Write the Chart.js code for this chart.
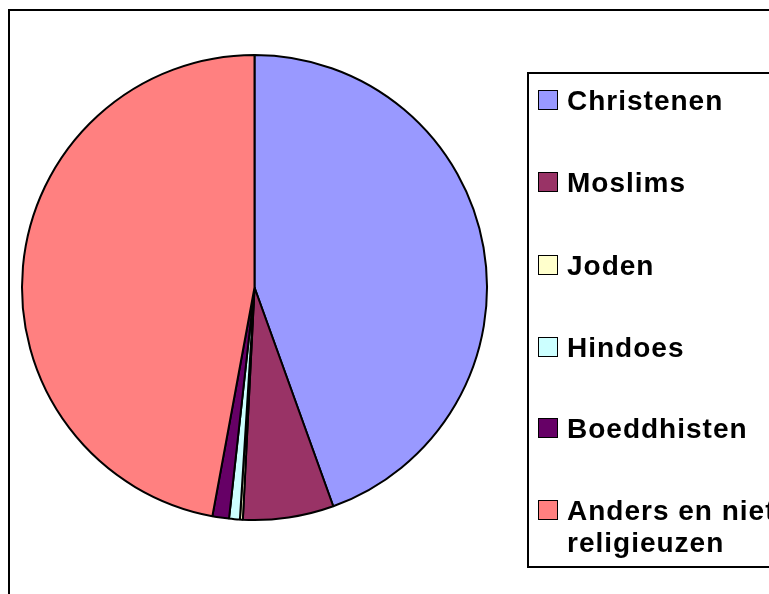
<!DOCTYPE html>
<html lang="nl">
<head>
  <meta charset="UTF-8">
  <title>Religies</title>
  <script src="https://cdn.jsdelivr.net/npm/chart.js"></script>
  <style>
    html, body { margin: 0; padding: 0; background: white; }
    #wrap { width: 769px; height: 594px; position: relative; }
  </style>
</head>
<body>
  <div id="wrap"><canvas id="grafiek" width="769" height="594"></canvas></div>

  <script>
    const labels = ["Christenen", "Moslims", "Joden", "Hindoes", "Boeddhisten", "Anders en niet religieuzen"];
    const legendLines = [["Christenen"], ["Moslims"], ["Joden"], ["Hindoes"], ["Boeddhisten"], ["Anders en niet", "religieuzen"]];
    const percentages = [44.5, 6.3, 0.2, 0.75, 1.15, 47.1];
    const colors = ["#9999FF", "#993366", "#FFFFCC", "#CCFFFF", "#660066", "#FF8080"];

    // kader + legenda zelf tekenen
    const kader = {
      id: "kader",
      afterDraw(chart) {
        const ctx = chart.ctx;
        ctx.save();
        ctx.strokeStyle = "#000";
        ctx.lineWidth = 2;
        ctx.strokeRect(9, 10, 800, 620);

        // legenda-kader
        ctx.lineWidth = 2;
        ctx.strokeRect(528, 73, 300, 494);

        ctx.font = "bold 28px 'Liberation Sans', Arial, sans-serif";
        ctx.letterSpacing = "1px";
        ctx.textBaseline = "middle";
        const rijY = [100, 182, 265, 347, 428, 510];
        legendLines.forEach((regels, i) => {
          const y = rijY[i];
          ctx.fillStyle = chart.data.datasets[0].backgroundColor[i];
          ctx.fillRect(538, y - 10, 20, 20);
          ctx.strokeStyle = "#000";
          ctx.lineWidth = 1;
          ctx.strokeRect(538.5, y - 9.5, 19, 19);
          ctx.fillStyle = "#000";
          regels.forEach((t, j) => ctx.fillText(t, 567, y + 2 + j * 32));
        });
        ctx.restore();
      }
    };

    new Chart(document.getElementById("grafiek"), {
      type: "pie",
      data: {
        labels: labels,
        datasets: [{
          data: percentages,
          backgroundColor: colors,
          borderColor: "#000",
          borderWidth: 2
        }]
      },
      options: {
        responsive: false,
        animation: false,
        layout: { padding: { left: 21, top: 54, right: 281, bottom: 73 } },
        plugins: {
          legend: { display: false },
          tooltip: { enabled: false }
        }
      },
      plugins: [kader]
    });
  </script>
</body>
</html>
